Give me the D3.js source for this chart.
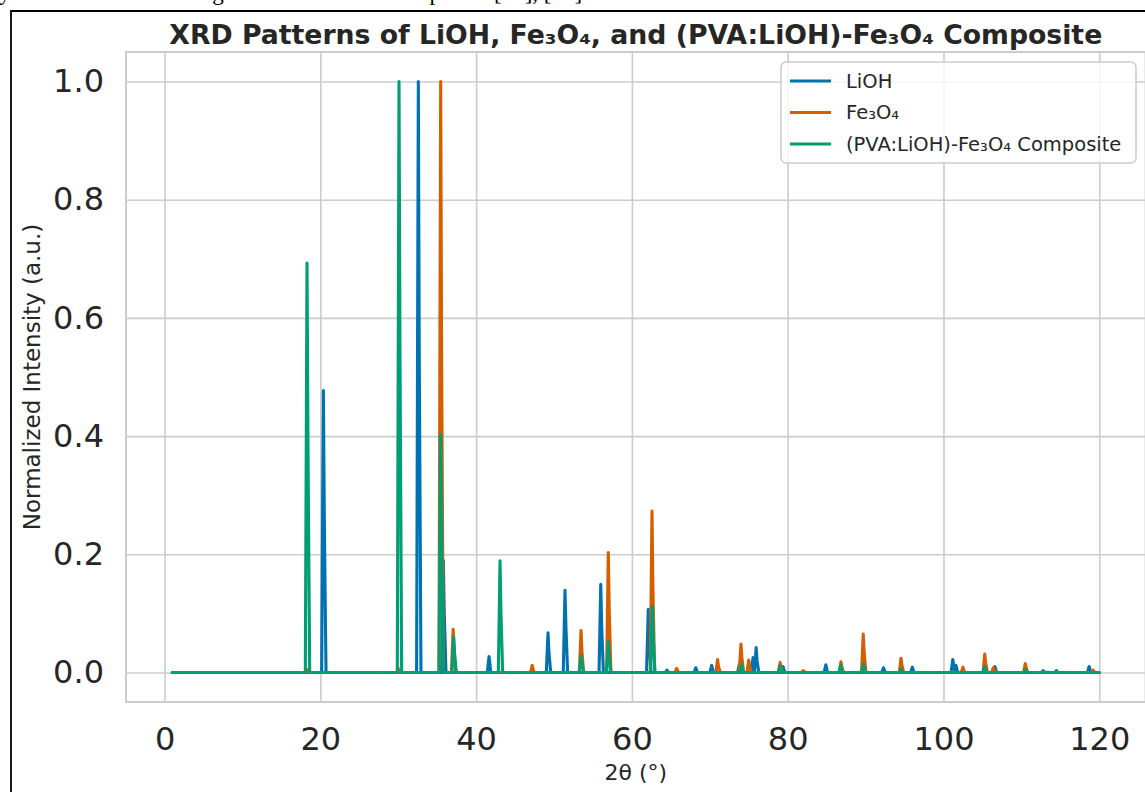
<!DOCTYPE html>
<html>
<head>
<meta charset="utf-8">
<script src="https://cdn.jsdelivr.net/npm/d3@7"></script>
<style>
  body { margin: 0; background: #fff; }
  svg { display: block; font-family: "DejaVu Sans", sans-serif; }
</style>
</head>
<body>
<svg id="chart" width="1145" height="792"></svg>
<script>
// peaks: 2θ position, normalized height, Kα2 shoulder height (0 = none)
const lioh_pos = [20.39, 32.58, 35.79, 41.66, 49.23, 51.41, 56.0, 62.1, 64.5, 68.2, 70.24, 73.8, 75.55, 75.95, 79.4, 84.9, 92.3, 96.0, 101.2, 101.6, 106.6, 112.8, 114.5, 118.7];
const lioh_int = [0.477, 1.0, 0.19, 0.027, 0.067, 0.139, 0.149, 0.107, 0.004, 0.008, 0.012, 0.014, 0.025, 0.042, 0.01, 0.013, 0.008, 0.009, 0.022, 0.012, 0.01, 0.003, 0.003, 0.01];
const lioh_sh  = [0.26, 0.53, 0.10, 0, 0.035, 0.077, 0.078, 0.055, 0, 0, 0, 0, 0, 0.02, 0, 0, 0, 0, 0.01, 0, 0, 0, 0, 0];

const fe3o4_pos = [18.3, 30.1, 35.45, 37.05, 47.2, 53.47, 56.97, 62.58, 65.75, 71.0, 74.0, 75.0, 79.03, 82.0, 86.84, 89.7, 94.55, 102.5, 105.3, 106.4, 110.5, 119.2];
const fe3o4_int = [0.005, 0.006, 1.0, 0.073, 0.012, 0.071, 0.203, 0.273, 0.007, 0.022, 0.048, 0.021, 0.017, 0.003, 0.018, 0.065, 0.024, 0.009, 0.031, 0.008, 0.015, 0.004];
const fe3o4_sh  = [0, 0, 0.53, 0.04, 0, 0.035, 0.105, 0.14, 0, 0.01, 0.025, 0.01, 0.008, 0, 0.009, 0.033, 0.012, 0, 0.016, 0, 0.008, 0];

const comp_pos = [18.29, 30.1, 35.45, 37.12, 43.07, 53.47, 56.97, 62.62, 74.1, 79.0, 86.8, 89.7, 94.55, 105.3, 110.5];
const comp_int = [0.693, 1.0, 0.402, 0.06, 0.189, 0.028, 0.052, 0.111, 0.0125, 0.011, 0.012, 0.014, 0.006, 0.01, 0.005];
const comp_sh  = [0.39, 0.55, 0.21, 0.03, 0.10, 0.014, 0.025, 0.06, 0, 0, 0, 0, 0, 0, 0];

const scan_range = [1, 120];
const series_names = ["LiOH", "Fe₃O₄", "(PVA:LiOH)-Fe₃O₄ Composite"];
const series_colors = ["#0072B2", "#D55E00", "#009E73"];
const x_ticks = [0, 20, 40, 60, 80, 100, 120];
const y_ticks = [0.0, 0.2, 0.4, 0.6, 0.8, 1.0];

const svg = d3.select("#chart");
const plot_left = 126, plot_top = 52, plot_w = 1019.6, plot_h = 650;
const text_color = "#262626";

// piece of the page around the figure (only the descenders of the line above show)
svg.append("text")
    .attr("x", -1)
    .attr("y", 0)
    .attr("font-family", "Liberation Serif")
    .attr("font-size", "23px")
    .attr("fill", "#000")
    .text("y and the results are in good accord with the reported [34], [35].");
svg.append("path")
    .attr("d", "M11,792V11H1145")
    .attr("fill", "none")
    .attr("stroke", "#000")
    .attr("stroke-width", 1.8);

let x = d3.scaleLinear()
    .domain([scan_range[0] - 0.05 * (scan_range[1] - scan_range[0]), scan_range[1] + 0.05 * (scan_range[1] - scan_range[0])])
    .range([plot_left, plot_left + plot_w]);
let y = d3.scaleLinear()
    .domain([-0.05, 1.05])
    .range([plot_top + plot_h, plot_top]);

// grid + tick labels
let xAxis = svg.append("g")
    .attr("transform", `translate(0, ${plot_top + plot_h})`)
    .call(d3.axisBottom(x).tickValues(x_ticks).tickFormat(d3.format("d")).tickSize(-plot_h).tickPadding(25));
let yAxis = svg.append("g")
    .attr("transform", `translate(${plot_left}, 0)`)
    .call(d3.axisLeft(y).tickValues(y_ticks).tickFormat(d3.format(".1f")).tickSize(-plot_w).tickPadding(22));
[xAxis, yAxis].forEach(function(g) {
    g.select(".domain").remove();
    g.selectAll(".tick line").attr("stroke", "#cccccc").attr("stroke-width", 1.6);
    g.selectAll(".tick text")
        .attr("font-family", "DejaVu Sans")
        .attr("font-size", "32px")
        .attr("fill", text_color);
});

svg.append("rect")
    .attr("x", plot_left).attr("y", plot_top)
    .attr("width", plot_w).attr("height", plot_h)
    .attr("fill", "none")
    .attr("stroke", "#cccccc")
    .attr("stroke-width", 2);

svg.append("clipPath").attr("id", "plot-clip")
    .append("rect")
    .attr("x", plot_left).attr("y", plot_top)
    .attr("width", plot_w).attr("height", plot_h);

// each peak is a narrow spike on a flat baseline
function pattern(pos, val, sh) {
    let pts = [[scan_range[0], 0]];
    for (let i = 0; i < pos.length; i++) {
        pts.push([pos[i] - 0.22, 0]);
        pts.push([pos[i], val[i]]);
        if (sh[i] > 0) {
            pts.push([pos[i] + 0.12, sh[i]]);
            pts.push([pos[i] + 0.34, 0]);
        } else {
            pts.push([pos[i] + 0.22, 0]);
        }
    }
    pts.push([scan_range[1], 0]);
    return pts;
}

const patterns = [
    pattern(lioh_pos, lioh_int, lioh_sh),
    pattern(fe3o4_pos, fe3o4_int, fe3o4_sh),
    pattern(comp_pos, comp_int, comp_sh)
];

let line = d3.line()
    .x(function(d) { return x(d[0]); })
    .y(function(d) { return y(d[1]); });

svg.append("g")
    .attr("clip-path", "url(#plot-clip)")
    .selectAll("path")
    .data(patterns)
    .enter()
    .append("path")
    .attr("d", line)
    .attr("fill", "none")
    .attr("stroke", function(d, i) { return series_colors[i]; })
    .attr("stroke-width", 3.1)
    .attr("stroke-linejoin", "round")
    .attr("stroke-linecap", "round");

// title and axis labels
svg.append("text")
    .attr("x", plot_left + plot_w / 2)
    .attr("y", 44)
    .attr("text-anchor", "middle")
    .attr("font-size", "26.7px")
    .attr("font-weight", "bold")
    .attr("fill", text_color)
    .text("XRD Patterns of LiOH, Fe₃O₄, and (PVA:LiOH)-Fe₃O₄ Composite");

svg.append("text")
    .attr("x", plot_left + plot_w / 2)
    .attr("y", 780)
    .attr("text-anchor", "middle")
    .attr("font-size", "22px")
    .attr("fill", text_color)
    .text("2θ (°)");

svg.append("text")
    .attr("transform", `translate(40, ${plot_top + plot_h / 2}) rotate(-90)`)
    .attr("text-anchor", "middle")
    .attr("font-size", "23px")
    .attr("fill", text_color)
    .text("Normalized Intensity (a.u.)");

// legend
let legend = svg.append("g").attr("transform", "translate(781, 62)");
legend.append("rect")
    .attr("width", 355).attr("height", 101)
    .attr("rx", 5)
    .attr("fill", "#fff").attr("fill-opacity", 0.8)
    .attr("stroke", "#cccccc").attr("stroke-width", 1.5);
let items = legend.selectAll(".item")
    .data(series_names)
    .enter()
    .append("g")
    .attr("class", "item")
    .attr("transform", function(d, i) { return `translate(0, ${19 + i * 31.5})`; });
items.append("line")
    .attr("x1", 9).attr("x2", 50)
    .attr("stroke", function(d, i) { return series_colors[i]; })
    .attr("stroke-width", 3);
items.append("text")
    .attr("x", 65)
    .attr("dy", "0.35em")
    .attr("font-size", "19.5px")
    .attr("fill", text_color)
    .text(function(d) { return d; });
</script>
</body>
</html>
